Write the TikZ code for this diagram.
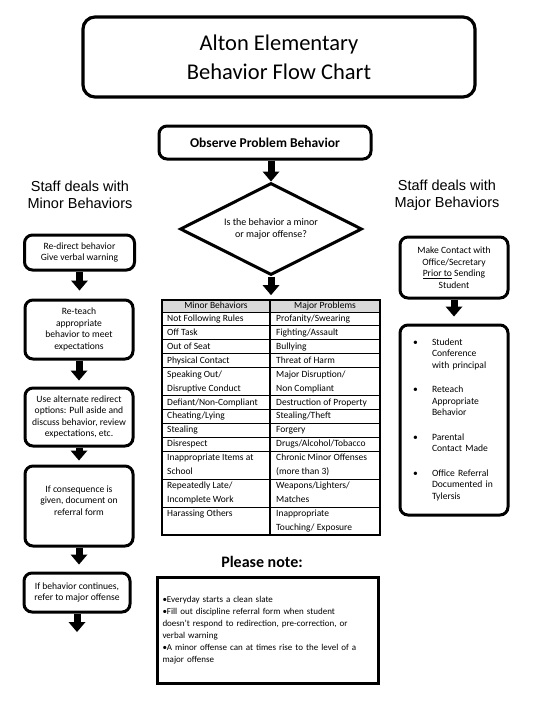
\documentclass[tikz,border=0pt]{standalone}
\usepackage{fontspec}
\setmainfont{Carlito}
\newfontfamily\headfont{Liberation Sans}
\usetikzlibrary{arrows.meta, positioning, shapes.geometric}

\tikzset{
  box/.style={draw, line width=3pt, rounded corners=8pt, align=center,
    font=\fontsize{9.6}{11.5}\selectfont, inner sep=2pt},
  flowarrow/.style={-{Triangle[width=17pt,length=10pt,line width=0pt]}, line width=7pt},
  heading/.style={font=\headfont\fontsize{14.5}{16.5}\selectfont, align=center},
  cell/.style={anchor=west, font=\fontsize{9.5}{11}\selectfont, inner sep=0pt,
    text height=7pt, text depth=2.2pt},
}

\begin{document}
\begin{tikzpicture}[x=1pt, y=-1pt]
  \useasboundingbox (0,0) rectangle (540,720);

  % title and start
  \node[box, line width=3.2pt, rounded corners=12pt, minimum width=392pt, minimum height=80pt,
    font=\fontsize{22.5}{29}\selectfont] (title) at (279,57) {Alton Elementary\\Behavior Flow Chart};
  \node[box, minimum width=212pt, minimum height=33pt,
    font=\bfseries\fontsize{13.5}{15}\selectfont] (observe) at (265,142.5) {Observe Problem Behavior};
  \node[draw, diamond, line width=3pt, aspect=2, inner sep=0pt, minimum width=182pt,
    minimum height=92pt, align=center, font=\fontsize{10}{12}\selectfont] (decide) at (271,229)
    {Is the behavior a minor\\or major offense?};

  \node[heading] (minorhead) at (80,195) {Staff deals with\\Minor Behaviors};
  \node[heading] (majorhead) at (447,195) {Staff deals with\\Major Behaviors};

  % minor behaviors
  \node[box, minimum width=110pt, minimum height=35pt] (redirect) at (79.5,252.5)
    {Re-direct behavior\\Give verbal warning};
  \node[box, minimum width=108pt, minimum height=59pt] (reteach) at (79,329.5)
    {Re-teach\\appropriate\\behavior to meet\\expectations};
  \node[box, minimum width=108pt, minimum height=58pt] (alternate) at (79,417)
    {Use alternate redirect\\options: Pull aside and\\discuss behavior, review\\expectations, etc.};
  \node[box, minimum width=108pt, minimum height=80pt] (consequence) at (79,506)
    {If consequence is\\given, document on\\referral form\\\mbox{}};
  \node[box, minimum width=106pt, minimum height=39pt] (continues) at (77,592.5)
    {If behavior continues,\\refer to major offense};
  \coordinate (leftend) at (77,632);

  % major behaviors
  \node[box, minimum width=108pt, minimum height=61pt] (contact) at (454,267.5)
    {Make Contact with\\Office/Secretary\\\underline{Prior to} Sending\\Student};
  \node[box, minimum width=108pt, minimum height=190pt, text width=92pt, align=left] (actions) at (454,420)
    {\begin{tabular}{@{\hspace{5pt}}p{19pt}@{}p{66pt}@{}}
      \textbullet & Student\newline Conference\newline with principal\\[13pt]
      \textbullet & Reteach\newline Appropriate\newline Behavior\\[13pt]
      \textbullet & Parental\newline Contact Made\\[13pt]
      \textbullet & Office Referral\newline Documented in\newline Tylersis
    \end{tabular}};

  % table of behaviors
  \fill[gray!30] (162,300) rectangle (380,312);
  \node[draw, line width=1.8pt, minimum width=218pt, minimum height=235pt, inner sep=0pt] (tbl) at (271,417.5) {};
  \draw[line width=1.4pt] ([xshift=-1pt]tbl.north) -- ([xshift=-1pt]tbl.south);
  \foreach \k in {0,1,2,3,4,6,7,8,9,10,12,14}
    \draw[line width=1pt] (162,312+13.94*\k) -- (380,312+13.94*\k);
  \node[cell, anchor=center] (minorcol) at (216,306.5) {Minor Behaviors};
  \node[cell, anchor=center] (majorcol) at (325,306.5) {Major Problems};
  \foreach \minor/\major [count=\i] in {
      {Not Following Rules}/{Profanity/Swearing},
      {Off Task}/{Fighting/Assault},
      {Out of Seat}/{Bullying},
      {Physical Contact}/{Threat of Harm},
      {Speaking Out/}/{Major Disruption/},
      {Disruptive Conduct}/{Non Compliant},
      {Defiant/Non-Compliant}/{Destruction of Property},
      {Cheating/Lying}/{Stealing/Theft},
      {Stealing}/{Forgery},
      {Disrespect}/{Drugs/Alcohol/Tobacco},
      {Inappropriate Items at}/{Chronic Minor Offenses},
      {School}/{(more than 3)},
      {Repeatedly Late/}/{Weapons/Lighters/},
      {Incomplete Work}/{Matches},
      {Harassing Others}/{Inappropriate},
      {}/{Touching/ Exposure}} {
    \node[cell] (minor\i) at (167,312+13.94*\i-6.97) {\minor};
    \node[cell] (major\i) at (276,312+13.94*\i-6.97) {\major};
  }

  % notes
  \node[font=\bfseries\fontsize{16}{18}\selectfont] (pleasenote) at (262,562) {Please note:};
  \node[draw, line width=3pt, minimum width=221pt, minimum height=106pt, text width=210pt,
    align=left, font=\fontsize{9}{12}\selectfont] (note) at (267.5,630)
    {\textbullet Everyday starts a clean slate\\
     \textbullet Fill out discipline referral form when student\\
     doesn't respond to redirection, pre-correction, or\\
     verbal warning\\
     \textbullet A minor offense can at times rise to the level of a\\
     major offense};

  % arrows
  \draw[flowarrow] (observe.south -| decide.north) -- (decide.north);
  \draw[flowarrow, shorten >=4pt] (decide.south) -- (tbl.north -| decide.south);
  \draw[flowarrow, shorten >=8pt] (redirect.south) -- (redirect.south |- reteach.north);
  \draw[flowarrow, shorten >=6pt] (reteach.south) -- (alternate.north);
  \draw[flowarrow, shorten >=4pt] (alternate.south) -- (consequence.north);
  \draw[flowarrow, shorten >=7pt] (consequence.south) -- (consequence.south |- continues.north);
  \draw[flowarrow] (continues.south) -- (leftend);
  \draw[flowarrow, shorten >=7pt] (contact.south) -- (actions.north);
\end{tikzpicture}
\end{document}
